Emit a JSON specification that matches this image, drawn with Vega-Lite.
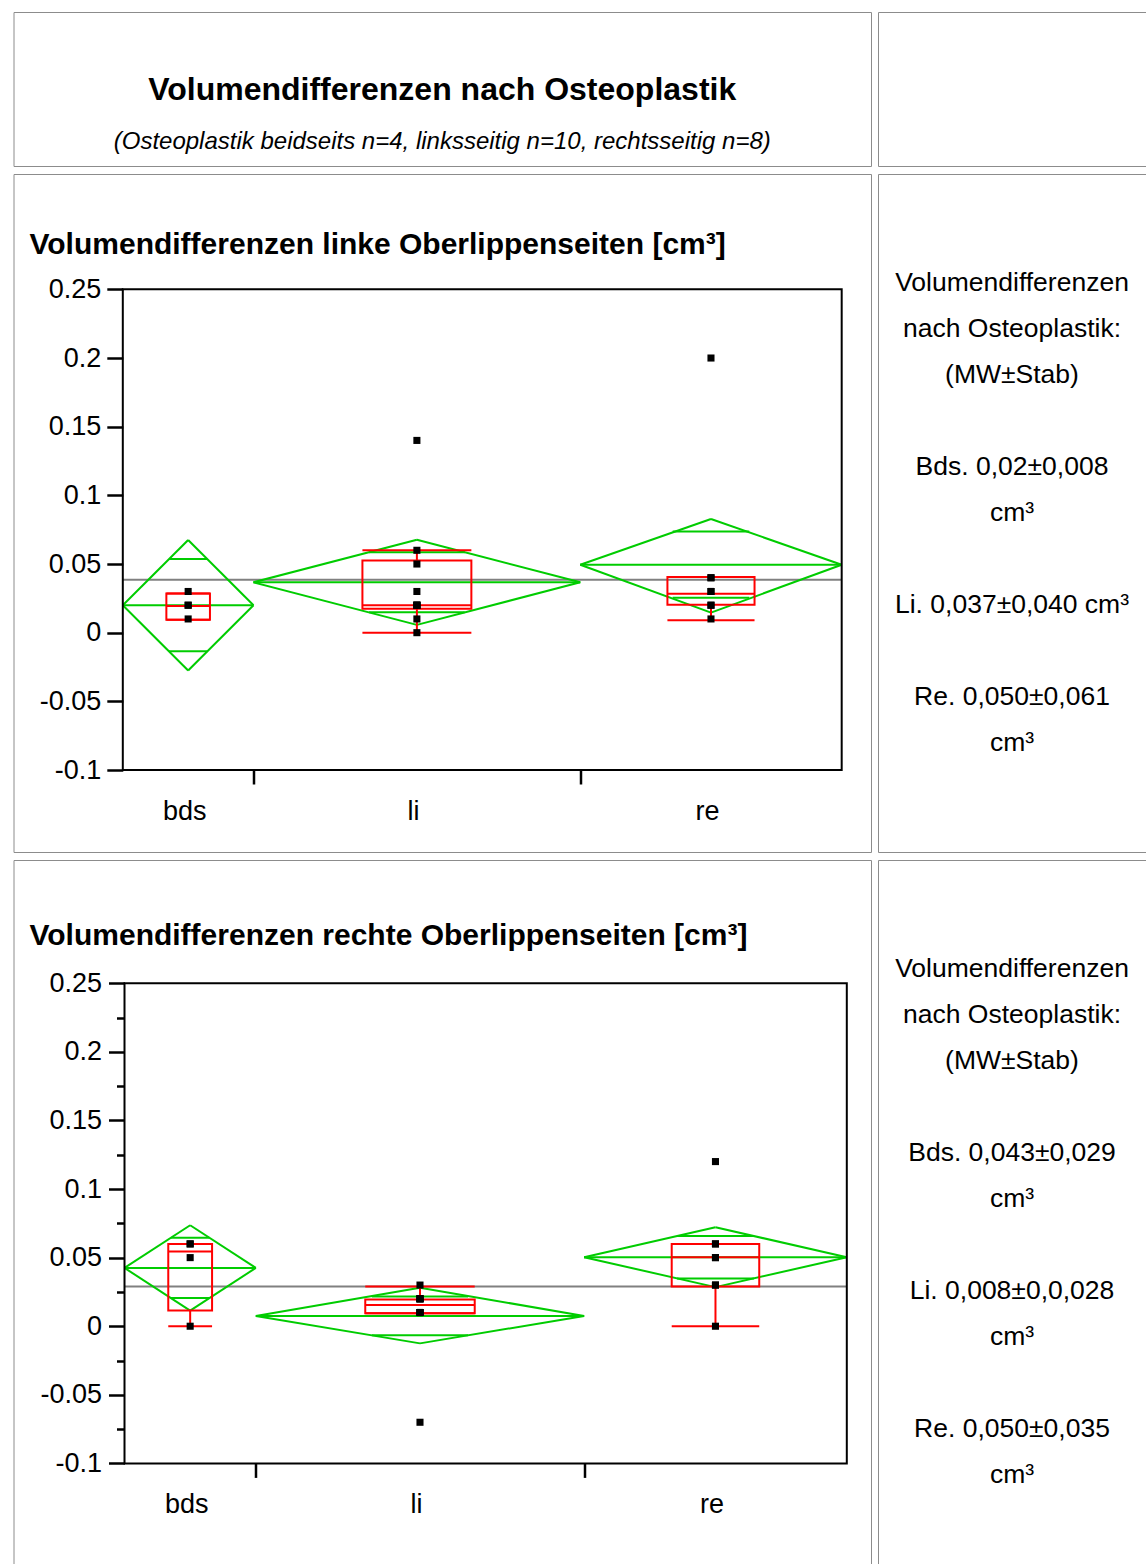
{
"$schema": "https://vega.github.io/schema/vega-lite/v6.json",
"padding": {"left": 12.5, "top": 11, "right": 0, "bottom": 0},
"background": "white",
"spacing": 6,
"datasets": {
"top_groups": [
{"g":"bds","n":4,"x0":0,"xc":2,"x1":4,"mean":0.02,"hi":0.0675,"lo":-0.0275,"ohi":0.0536,"olo":-0.0136,"ox0":1.414,"ox1":2.586,"bx0":1.333,"bx1":2.667,"q1":0.0095,"med":0.0195,"q3":0.0285,"wlo":0.0095,"whi":0.0285},
{"g":"li","n":10,"x0":4,"xc":9,"x1":14,"mean":0.0367,"hi":0.0677,"lo":0.0057,"ohi":0.0586,"olo":0.0148,"ox0":7.536,"ox1":10.464,"bx0":7.333,"bx1":10.667,"q1":0.0175,"med":0.02,"q3":0.0525,"wlo":0,"whi":0.06},
{"g":"re","n":8,"x0":14,"xc":18,"x1":22,"mean":0.0495,"hi":0.0828,"lo":0.0146,"ohi":0.0736,"olo":0.0254,"ox0":16.828,"ox1":19.172,"bx0":16.667,"bx1":19.333,"q1":0.0203,"med":0.0283,"q3":0.0406,"wlo":0.009,"whi":0.0406}
],
"top_points": [
{"g":"bds","v":0.01},{"g":"bds","v":0.02},{"g":"bds","v":0.02},{"g":"bds","v":0.03},
{"g":"li","v":0.0},{"g":"li","v":0.01},{"g":"li","v":0.02},{"g":"li","v":0.02},{"g":"li","v":0.02},{"g":"li","v":0.02},{"g":"li","v":0.03},{"g":"li","v":0.05},{"g":"li","v":0.06},{"g":"li","v":0.14},
{"g":"re","v":0.01},{"g":"re","v":0.02},{"g":"re","v":0.02},{"g":"re","v":0.03},{"g":"re","v":0.03},{"g":"re","v":0.04},{"g":"re","v":0.04},{"g":"re","v":0.2}
],
"bot_groups": [
{"g":"bds","n":4,"x0":0,"xc":2,"x1":4,"mean":0.0425,"hi":0.0736,"lo":0.0114,"ohi":0.0645,"olo":0.0205,"ox0":1.414,"ox1":2.586,"bx0":1.333,"bx1":2.667,"q1":0.0114,"med":0.0545,"q3":0.06,"wlo":0,"whi":0.06},
{"g":"li","n":10,"x0":4,"xc":9,"x1":14,"mean":0.0075,"hi":0.028,"lo":-0.0125,"ohi":0.0216,"olo":-0.0066,"ox0":7.536,"ox1":10.464,"bx0":7.333,"bx1":10.667,"q1":0.0095,"med":0.0155,"q3":0.0195,"wlo":0.0095,"whi":0.029},
{"g":"re","n":8,"x0":14,"xc":18,"x1":22,"mean":0.0503,"hi":0.0721,"lo":0.0285,"ohi":0.0658,"olo":0.0348,"ox0":16.828,"ox1":19.172,"bx0":16.667,"bx1":19.333,"q1":0.029,"med":0.0503,"q3":0.06,"wlo":0,"whi":0.06}
],
"bot_points": [
{"g":"bds","v":0.0},{"g":"bds","v":0.05},{"g":"bds","v":0.06},{"g":"bds","v":0.06},
{"g":"li","v":-0.07},{"g":"li","v":0.01},{"g":"li","v":0.01},{"g":"li","v":0.01},{"g":"li","v":0.01},{"g":"li","v":0.02},{"g":"li","v":0.02},{"g":"li","v":0.02},{"g":"li","v":0.02},{"g":"li","v":0.03},
{"g":"re","v":0.0},{"g":"re","v":0.03},{"g":"re","v":0.03},{"g":"re","v":0.05},{"g":"re","v":0.05},{"g":"re","v":0.06},{"g":"re","v":0.06},{"g":"re","v":0.12}
],
"top_text": [
{"line":0,"label":"Volumendifferenzen"},
{"line":1,"label":"nach Osteoplastik:"},
{"line":2,"label":"(MW±Stab)"},
{"line":4,"label":"Bds. 0,02±0,008"},
{"line":5,"label":"cm³"},
{"line":7,"label":"Li. 0,037±0,040 cm³"},
{"line":9,"label":"Re. 0,050±0,061"},
{"line":10,"label":"cm³"}
],
"bot_text": [
{"line":0,"label":"Volumendifferenzen"},
{"line":1,"label":"nach Osteoplastik:"},
{"line":2,"label":"(MW±Stab)"},
{"line":4,"label":"Bds. 0,043±0,029"},
{"line":5,"label":"cm³"},
{"line":7,"label":"Li. 0,008±0,0,028"},
{"line":8,"label":"cm³"},
{"line":10,"label":"Re. 0,050±0,035"},
{"line":11,"label":"cm³"}
]
},
"vconcat": [
{
"spacing": 5.5,
"hconcat": [
{
"width": 857.5, "height": 154,
"layer": [
{"data": {"values": [{"line": 0, "label": "Volumendifferenzen nach Osteoplastik"}]},
 "mark": {"type": "text", "font": "Liberation Sans", "fontSize": 32, "fontWeight": "bold", "color": "black", "baseline": "middle", "align": "center"},
 "encoding": {"y": {"field": "line", "type": "quantitative", "scale": {"domain": [-1.4706, 1.4516], "reverse": true, "nice": false, "zero": false}, "axis": null},
  "text": {"field": "label", "type": "nominal"}}},
{"data": {"values": [{"line": 1, "label": "(Osteoplastik beidseits n=4, linksseitig n=10, rechtsseitig n=8)"}]},
 "mark": {"type": "text", "font": "Liberation Sans", "fontSize": 24, "fontStyle": "italic", "color": "black", "baseline": "middle", "align": "center"},
 "encoding": {"y": {"field": "line", "type": "quantitative", "scale": {"domain": [-1.4706, 1.4516], "reverse": true, "nice": false, "zero": false}, "axis": null},
  "text": {"field": "label", "type": "nominal"}}}
]
},
{
"width": 268, "height": 154,
"data": {"values": [{"line": 0, "label": ""}]},
"mark": {"type": "text"},
"encoding": {"y": {"field": "line", "type": "quantitative", "scale": {"domain": [-1, 1], "nice": false, "zero": false}, "axis": null},
 "text": {"field": "label", "type": "nominal"}}
}
]
},
{
"spacing": 5.5,
"hconcat": [
{
"width": 857.5, "height": 678,
"title": {"text": "Volumendifferenzen linke Oberlippenseiten [cm³]", "anchor": "start", "frame": "group", "orient": "top", "offset": -110.3, "dx": 16, "baseline": "alphabetic", "font": "Liberation Sans", "fontSize": 30, "fontWeight": "bold", "color": "black"},
"layer": [
{"data": {"values": [{"grand_mean": 0.0385}]},
 "mark": {"type": "rule", "color": "#808080", "strokeWidth": 2},
 "encoding": {"x": {"datum": 0, "type": "quantitative", "scale": {"domain": [-3.345, 22.897], "nice": false, "zero": false}}, "x2": {"datum": 22},
  "y": {"field": "grand_mean", "type": "quantitative", "scale": {"domain": [-0.1597, 0.334], "nice": false, "zero": false}}}},
{"data": {"name": "top_groups"}, "mark": {"type": "rule", "color": "#00cc00", "strokeWidth": 2},
 "encoding": {"x": {"field": "x0", "type": "quantitative", "scale": {"domain": [-3.345, 22.897], "nice": false, "zero": false}}, "x2": {"field": "xc"},
  "y": {"field": "mean", "type": "quantitative", "scale": {"domain": [-0.1597, 0.334], "nice": false, "zero": false}}, "y2": {"field": "hi"}}},
{"data": {"name": "top_groups"}, "mark": {"type": "rule", "color": "#00cc00", "strokeWidth": 2},
 "encoding": {"x": {"field": "xc", "type": "quantitative", "scale": {"domain": [-3.345, 22.897], "nice": false, "zero": false}}, "x2": {"field": "x1"},
  "y": {"field": "hi", "type": "quantitative", "scale": {"domain": [-0.1597, 0.334], "nice": false, "zero": false}}, "y2": {"field": "mean"}}},
{"data": {"name": "top_groups"}, "mark": {"type": "rule", "color": "#00cc00", "strokeWidth": 2},
 "encoding": {"x": {"field": "x1", "type": "quantitative", "scale": {"domain": [-3.345, 22.897], "nice": false, "zero": false}}, "x2": {"field": "xc"},
  "y": {"field": "mean", "type": "quantitative", "scale": {"domain": [-0.1597, 0.334], "nice": false, "zero": false}}, "y2": {"field": "lo"}}},
{"data": {"name": "top_groups"}, "mark": {"type": "rule", "color": "#00cc00", "strokeWidth": 2},
 "encoding": {"x": {"field": "xc", "type": "quantitative", "scale": {"domain": [-3.345, 22.897], "nice": false, "zero": false}}, "x2": {"field": "x0"},
  "y": {"field": "lo", "type": "quantitative", "scale": {"domain": [-0.1597, 0.334], "nice": false, "zero": false}}, "y2": {"field": "mean"}}},
{"data": {"name": "top_groups"}, "mark": {"type": "rule", "color": "#00cc00", "strokeWidth": 2},
 "encoding": {"x": {"field": "x0", "type": "quantitative", "scale": {"domain": [-3.345, 22.897], "nice": false, "zero": false}}, "x2": {"field": "x1"},
  "y": {"field": "mean", "type": "quantitative", "scale": {"domain": [-0.1597, 0.334], "nice": false, "zero": false}}}},
{"data": {"name": "top_groups"}, "mark": {"type": "rule", "color": "#00cc00", "strokeWidth": 2},
 "encoding": {"x": {"field": "ox0", "type": "quantitative", "scale": {"domain": [-3.345, 22.897], "nice": false, "zero": false}}, "x2": {"field": "ox1"},
  "y": {"field": "ohi", "type": "quantitative", "scale": {"domain": [-0.1597, 0.334], "nice": false, "zero": false}}}},
{"data": {"name": "top_groups"}, "mark": {"type": "rule", "color": "#00cc00", "strokeWidth": 2},
 "encoding": {"x": {"field": "ox0", "type": "quantitative", "scale": {"domain": [-3.345, 22.897], "nice": false, "zero": false}}, "x2": {"field": "ox1"},
  "y": {"field": "olo", "type": "quantitative", "scale": {"domain": [-0.1597, 0.334], "nice": false, "zero": false}}}},
{"data": {"name": "top_groups"}, "mark": {"type": "rect", "fill": "transparent", "stroke": "#ff0000", "strokeWidth": 2},
 "encoding": {"x": {"field": "bx0", "type": "quantitative", "scale": {"domain": [-3.345, 22.897], "nice": false, "zero": false}}, "x2": {"field": "bx1"},
  "y": {"field": "q1", "type": "quantitative", "scale": {"domain": [-0.1597, 0.334], "nice": false, "zero": false}}, "y2": {"field": "q3"}}},
{"data": {"name": "top_groups"}, "mark": {"type": "rule", "color": "#ff0000", "strokeWidth": 2},
 "encoding": {"x": {"field": "bx0", "type": "quantitative", "scale": {"domain": [-3.345, 22.897], "nice": false, "zero": false}}, "x2": {"field": "bx1"},
  "y": {"field": "med", "type": "quantitative", "scale": {"domain": [-0.1597, 0.334], "nice": false, "zero": false}}}},
{"data": {"name": "top_groups"}, "mark": {"type": "rule", "color": "#ff0000", "strokeWidth": 2},
 "encoding": {"x": {"field": "xc", "type": "quantitative", "scale": {"domain": [-3.345, 22.897], "nice": false, "zero": false}},
  "y": {"field": "q3", "type": "quantitative", "scale": {"domain": [-0.1597, 0.334], "nice": false, "zero": false}}, "y2": {"field": "whi"}}},
{"data": {"name": "top_groups"}, "mark": {"type": "rule", "color": "#ff0000", "strokeWidth": 2},
 "encoding": {"x": {"field": "xc", "type": "quantitative", "scale": {"domain": [-3.345, 22.897], "nice": false, "zero": false}},
  "y": {"field": "q1", "type": "quantitative", "scale": {"domain": [-0.1597, 0.334], "nice": false, "zero": false}}, "y2": {"field": "wlo"}}},
{"data": {"name": "top_groups"}, "mark": {"type": "rule", "color": "#ff0000", "strokeWidth": 2},
 "encoding": {"x": {"field": "bx0", "type": "quantitative", "scale": {"domain": [-3.345, 22.897], "nice": false, "zero": false}}, "x2": {"field": "bx1"},
  "y": {"field": "whi", "type": "quantitative", "scale": {"domain": [-0.1597, 0.334], "nice": false, "zero": false}}}},
{"data": {"name": "top_groups"}, "mark": {"type": "rule", "color": "#ff0000", "strokeWidth": 2},
 "encoding": {"x": {"field": "bx0", "type": "quantitative", "scale": {"domain": [-3.345, 22.897], "nice": false, "zero": false}}, "x2": {"field": "bx1"},
  "y": {"field": "wlo", "type": "quantitative", "scale": {"domain": [-0.1597, 0.334], "nice": false, "zero": false}}}},
{"data": {"values": [{}]},
 "mark": {"type": "rect", "fill": "transparent", "stroke": "black", "strokeWidth": 2},
 "encoding": {
  "x": {"datum": 0, "type": "quantitative", "scale": {"domain": [-3.345, 22.897], "nice": false, "zero": false}},
  "x2": {"datum": 22},
  "y": {"datum": -0.1, "type": "quantitative", "scale": {"domain": [-0.1597, 0.334], "nice": false, "zero": false}},
  "y2": {"datum": 0.25}}},
{"data": {"name": "top_points"},
 "transform": [{"lookup": "g", "from": {"data": {"name": "top_groups"}, "key": "g", "fields": ["xc"]}}],
 "mark": {"type": "square", "size": 50, "color": "black", "opacity": 1},
 "encoding": {
  "x": {"field": "xc", "type": "quantitative", "scale": {"domain": [-3.345, 22.897], "nice": false, "zero": false},
   "axis": {"orient": "bottom", "offset": -82, "values": [2, 4, 9, 14, 18], "domain": false, "grid": false, "title": null,
    "tickSize": 14, "tickWidth": 2.5, "tickColor": "black",
    "tickOpacity": {"condition": {"test": "datum.value == 4 || datum.value == 14", "value": 1}, "value": 0},
    "labelExpr": "datum.value == 2 ? 'bds' : datum.value == 9 ? 'li' : datum.value == 18 ? 're' : ''",
    "labelFont": "Liberation Sans", "labelFontSize": 27, "labelColor": "black", "labelPadding": 14, "labelOffset": -4, "labelAngle": 0, "labelFlush": false, "labelOverlap": false}},
  "y": {"field": "v", "type": "quantitative", "scale": {"domain": [-0.1597, 0.334], "nice": false, "zero": false},
   "axis": {"orient": "left", "offset": -109.3, "values": [-0.1, -0.05, 0, 0.05, 0.1, 0.15, 0.2, 0.25], "domain": false, "grid": false, "title": null,
    "tickSize": 16, "tickWidth": 2.5, "tickColor": "black",
    "labelExpr": "'' + datum.value",
    "labelFont": "Liberation Sans", "labelFontSize": 27, "labelColor": "black", "labelPadding": 6, "labelFlush": false, "labelOverlap": false}}}}
]
},
{
"width": 268, "height": 678,
"data": {"name": "top_text"},
"mark": {"type": "text", "font": "Liberation Sans", "fontSize": 26.5, "color": "black", "baseline": "middle", "align": "center"},
"encoding": {"y": {"field": "line", "type": "quantitative", "scale": {"domain": [-2.37, 12.37], "reverse": true, "nice": false, "zero": false}, "axis": null},
 "text": {"field": "label", "type": "nominal"}}
}
]
},
{
"spacing": 5.5,
"hconcat": [
{
"width": 857.5, "height": 704,
"title": {"text": "Volumendifferenzen rechte Oberlippenseiten [cm³]", "anchor": "start", "frame": "group", "orient": "top", "offset": -114.8, "dx": 16, "baseline": "alphabetic", "font": "Liberation Sans", "fontSize": 30, "fontWeight": "bold", "color": "black"},
"layer": [
{"data": {"values": [{"grand_mean": 0.0289}]},
 "mark": {"type": "rule", "color": "#808080", "strokeWidth": 2},
 "encoding": {"x": {"datum": 0, "type": "quantitative", "scale": {"domain": [-3.381, 22.737], "nice": false, "zero": false}}, "x2": {"datum": 22},
  "y": {"field": "grand_mean", "type": "quantitative", "scale": {"domain": [-0.1733, 0.3398], "nice": false, "zero": false}}}},
{"data": {"name": "bot_groups"}, "mark": {"type": "rule", "color": "#00cc00", "strokeWidth": 2},
 "encoding": {"x": {"field": "x0", "type": "quantitative", "scale": {"domain": [-3.381, 22.737], "nice": false, "zero": false}}, "x2": {"field": "xc"},
  "y": {"field": "mean", "type": "quantitative", "scale": {"domain": [-0.1733, 0.3398], "nice": false, "zero": false}}, "y2": {"field": "hi"}}},
{"data": {"name": "bot_groups"}, "mark": {"type": "rule", "color": "#00cc00", "strokeWidth": 2},
 "encoding": {"x": {"field": "xc", "type": "quantitative", "scale": {"domain": [-3.381, 22.737], "nice": false, "zero": false}}, "x2": {"field": "x1"},
  "y": {"field": "hi", "type": "quantitative", "scale": {"domain": [-0.1733, 0.3398], "nice": false, "zero": false}}, "y2": {"field": "mean"}}},
{"data": {"name": "bot_groups"}, "mark": {"type": "rule", "color": "#00cc00", "strokeWidth": 2},
 "encoding": {"x": {"field": "x1", "type": "quantitative", "scale": {"domain": [-3.381, 22.737], "nice": false, "zero": false}}, "x2": {"field": "xc"},
  "y": {"field": "mean", "type": "quantitative", "scale": {"domain": [-0.1733, 0.3398], "nice": false, "zero": false}}, "y2": {"field": "lo"}}},
{"data": {"name": "bot_groups"}, "mark": {"type": "rule", "color": "#00cc00", "strokeWidth": 2},
 "encoding": {"x": {"field": "xc", "type": "quantitative", "scale": {"domain": [-3.381, 22.737], "nice": false, "zero": false}}, "x2": {"field": "x0"},
  "y": {"field": "lo", "type": "quantitative", "scale": {"domain": [-0.1733, 0.3398], "nice": false, "zero": false}}, "y2": {"field": "mean"}}},
{"data": {"name": "bot_groups"}, "mark": {"type": "rule", "color": "#00cc00", "strokeWidth": 2},
 "encoding": {"x": {"field": "x0", "type": "quantitative", "scale": {"domain": [-3.381, 22.737], "nice": false, "zero": false}}, "x2": {"field": "x1"},
  "y": {"field": "mean", "type": "quantitative", "scale": {"domain": [-0.1733, 0.3398], "nice": false, "zero": false}}}},
{"data": {"name": "bot_groups"}, "mark": {"type": "rule", "color": "#00cc00", "strokeWidth": 2},
 "encoding": {"x": {"field": "ox0", "type": "quantitative", "scale": {"domain": [-3.381, 22.737], "nice": false, "zero": false}}, "x2": {"field": "ox1"},
  "y": {"field": "ohi", "type": "quantitative", "scale": {"domain": [-0.1733, 0.3398], "nice": false, "zero": false}}}},
{"data": {"name": "bot_groups"}, "mark": {"type": "rule", "color": "#00cc00", "strokeWidth": 2},
 "encoding": {"x": {"field": "ox0", "type": "quantitative", "scale": {"domain": [-3.381, 22.737], "nice": false, "zero": false}}, "x2": {"field": "ox1"},
  "y": {"field": "olo", "type": "quantitative", "scale": {"domain": [-0.1733, 0.3398], "nice": false, "zero": false}}}},
{"data": {"name": "bot_groups"}, "mark": {"type": "rect", "fill": "transparent", "stroke": "#ff0000", "strokeWidth": 2},
 "encoding": {"x": {"field": "bx0", "type": "quantitative", "scale": {"domain": [-3.381, 22.737], "nice": false, "zero": false}}, "x2": {"field": "bx1"},
  "y": {"field": "q1", "type": "quantitative", "scale": {"domain": [-0.1733, 0.3398], "nice": false, "zero": false}}, "y2": {"field": "q3"}}},
{"data": {"name": "bot_groups"}, "mark": {"type": "rule", "color": "#ff0000", "strokeWidth": 2},
 "encoding": {"x": {"field": "bx0", "type": "quantitative", "scale": {"domain": [-3.381, 22.737], "nice": false, "zero": false}}, "x2": {"field": "bx1"},
  "y": {"field": "med", "type": "quantitative", "scale": {"domain": [-0.1733, 0.3398], "nice": false, "zero": false}}}},
{"data": {"name": "bot_groups"}, "mark": {"type": "rule", "color": "#ff0000", "strokeWidth": 2},
 "encoding": {"x": {"field": "xc", "type": "quantitative", "scale": {"domain": [-3.381, 22.737], "nice": false, "zero": false}},
  "y": {"field": "q3", "type": "quantitative", "scale": {"domain": [-0.1733, 0.3398], "nice": false, "zero": false}}, "y2": {"field": "whi"}}},
{"data": {"name": "bot_groups"}, "mark": {"type": "rule", "color": "#ff0000", "strokeWidth": 2},
 "encoding": {"x": {"field": "xc", "type": "quantitative", "scale": {"domain": [-3.381, 22.737], "nice": false, "zero": false}},
  "y": {"field": "q1", "type": "quantitative", "scale": {"domain": [-0.1733, 0.3398], "nice": false, "zero": false}}, "y2": {"field": "wlo"}}},
{"data": {"name": "bot_groups"}, "mark": {"type": "rule", "color": "#ff0000", "strokeWidth": 2},
 "encoding": {"x": {"field": "bx0", "type": "quantitative", "scale": {"domain": [-3.381, 22.737], "nice": false, "zero": false}}, "x2": {"field": "bx1"},
  "y": {"field": "whi", "type": "quantitative", "scale": {"domain": [-0.1733, 0.3398], "nice": false, "zero": false}}}},
{"data": {"name": "bot_groups"}, "mark": {"type": "rule", "color": "#ff0000", "strokeWidth": 2},
 "encoding": {"x": {"field": "bx0", "type": "quantitative", "scale": {"domain": [-3.381, 22.737], "nice": false, "zero": false}}, "x2": {"field": "bx1"},
  "y": {"field": "wlo", "type": "quantitative", "scale": {"domain": [-0.1733, 0.3398], "nice": false, "zero": false}}}},
{"data": {"values": [{}]},
 "mark": {"type": "rect", "fill": "transparent", "stroke": "black", "strokeWidth": 2},
 "encoding": {
  "x": {"datum": 0, "type": "quantitative", "scale": {"domain": [-3.381, 22.737], "nice": false, "zero": false}},
  "x2": {"datum": 22},
  "y": {"datum": -0.1, "type": "quantitative", "scale": {"domain": [-0.1733, 0.3398], "nice": false, "zero": false}},
  "y2": {"datum": 0.25}}},
{"data": {"name": "bot_points"},
 "transform": [{"lookup": "g", "from": {"data": {"name": "bot_groups"}, "key": "g", "fields": ["xc"]}}],
 "mark": {"type": "square", "size": 50, "color": "black", "opacity": 1},
 "encoding": {
  "x": {"field": "xc", "type": "quantitative", "scale": {"domain": [-3.381, 22.737], "nice": false, "zero": false},
   "axis": {"orient": "bottom", "offset": -100.6, "values": [2, 4, 9, 14, 18], "domain": false, "grid": false, "title": null,
    "tickSize": 14, "tickWidth": 2.5, "tickColor": "black",
    "tickOpacity": {"condition": {"test": "datum.value == 4 || datum.value == 14", "value": 1}, "value": 0},
    "labelExpr": "datum.value == 2 ? 'bds' : datum.value == 9 ? 'li' : datum.value == 18 ? 're' : ''",
    "labelFont": "Liberation Sans", "labelFontSize": 27, "labelColor": "black", "labelPadding": 14, "labelOffset": -4, "labelAngle": 0, "labelFlush": false, "labelOverlap": false}},
  "y": {"field": "v", "type": "quantitative", "scale": {"domain": [-0.1733, 0.3398], "nice": false, "zero": false},
   "axis": {"orient": "left", "offset": -111, "values": [-0.1, -0.075, -0.05, -0.025, 0, 0.025, 0.05, 0.075, 0.1, 0.125, 0.15, 0.175, 0.2, 0.225, 0.25], "domain": false, "grid": false, "title": null,
    "tickSize": {"condition": {"test": "abs(datum.value*20 - round(datum.value*20)) < 0.001", "value": 16}, "value": 8},
    "tickWidth": 2.5, "tickColor": "black",
    "labelExpr": "abs(datum.value*20 - round(datum.value*20)) < 0.001 ? '' + datum.value : ''",
    "labelFont": "Liberation Sans", "labelFontSize": 27, "labelColor": "black", "labelPadding": 7, "labelFlush": false, "labelOverlap": false}}}}
]
},
{
"width": 268, "height": 704,
"data": {"name": "bot_text"},
"mark": {"type": "text", "font": "Liberation Sans", "fontSize": 26.5, "color": "black", "baseline": "middle", "align": "center"},
"encoding": {"y": {"field": "line", "type": "quantitative", "scale": {"domain": [-2.38, 12.924], "reverse": true, "nice": false, "zero": false}, "axis": null},
 "text": {"field": "label", "type": "nominal"}}
}
]
}
],
"config": {
"font": "Liberation Sans",
"view": {"stroke": "#8c8c8c", "strokeWidth": 1}
}
}
